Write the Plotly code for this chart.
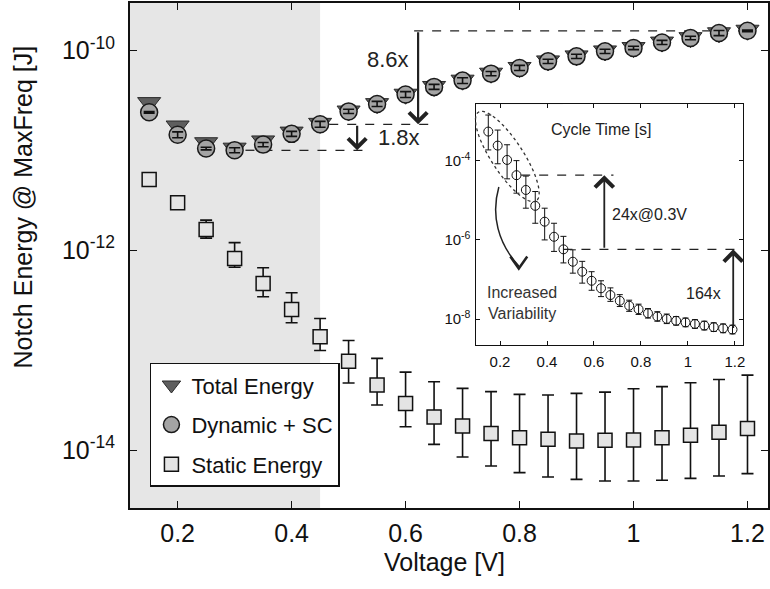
import numpy as np
import plotly.graph_objects as go

FONT = "Liberation Sans, Arial, Helvetica, sans-serif"
W, H = 770, 589
ML, MR, MT, MB = 130, 0, 3, 81

# ---- main panel: energy per operation vs supply voltage ----
voltage = [0.15, 0.20, 0.25, 0.30, 0.35, 0.40, 0.45, 0.50, 0.55, 0.60, 0.65,
           0.70, 0.75, 0.80, 0.85, 0.90, 0.95, 1.00, 1.05, 1.10, 1.15, 1.20]

total_energy = [3.0e-11, 1.75e-11, 1.19e-11, 1.05e-11, 1.24e-11, 1.52e-11, 1.86e-11,
                2.47e-11, 2.93e-11, 3.64e-11, 4.35e-11, 5.03e-11, 5.91e-11, 6.74e-11,
                7.84e-11, 8.80e-11, 9.87e-11, 1.067e-10, 1.21e-10, 1.34e-10, 1.50e-10,
                1.59e-10]

dynamic_sc = [2.40e-11, 1.43e-11, 1.04e-11, 1.00e-11, 1.14e-11, 1.46e-11, 1.82e-11,
              2.45e-11, 2.91e-11, 3.61e-11, 4.31e-11, 4.98e-11, 5.85e-11, 6.67e-11,
              7.76e-11, 8.71e-11, 9.77e-11, 1.057e-10, 1.20e-10, 1.33e-10, 1.49e-10,
              1.57e-10]

# relative half-spread of the dynamic-energy error bars
dynamic_spread = [0.02, 0.07, 0.03, 0.06, 0.05, 0.06, 0.07, 0.05, 0.06, 0.07, 0.06,
                  0.07, 0.05, 0.06, 0.05, 0.05, 0.05, 0.04, 0.05, 0.04, 0.06, 0.02]

static_energy = [5.09e-12, 2.98e-12, 1.61e-12, 8.26e-13, 4.65e-13, 2.55e-13, 1.36e-13,
                 7.76e-14, 4.47e-14, 2.93e-14, 2.14e-14, 1.74e-14, 1.46e-14, 1.33e-14,
                 1.28e-14, 1.23e-14, 1.25e-14, 1.26e-14, 1.33e-14, 1.41e-14, 1.51e-14,
                 1.64e-14]
static_hi = [5.45e-12, 3.20e-12, 2.00e-12, 1.19e-12, 6.67e-13, 3.75e-13, 2.07e-13,
             1.25e-13, 8.26e-14, 6.03e-14, 4.83e-14, 4.14e-14, 3.84e-14, 3.61e-14,
             3.55e-14, 3.69e-14, 3.80e-14, 4.11e-14, 4.31e-14, 4.72e-14, 5.09e-14,
             5.62e-14]
static_lo = [4.75e-12, 2.78e-12, 1.32e-12, 6.76e-13, 3.42e-13, 1.88e-13, 9.93e-14,
             4.68e-14, 2.82e-14, 1.71e-14, 1.14e-14, 8.51e-15, 6.92e-15, 5.94e-15,
             5.37e-15, 5.09e-15, 4.90e-15, 4.90e-15, 4.98e-15, 5.21e-15, 5.50e-15,
             5.81e-15]

x_ticks = [0.2, 0.4, 0.6, 0.8, 1.0, 1.2]
x_ticktext = ["0.2", "0.4", "0.6", "0.8", "1", "1.2"]
y_ticks = [1e-14, 1e-12, 1e-10]
y_ticktext = ["10<sup>-14</sup>", "10<sup>-12</sup>", "10<sup>-10</sup>"]

# ---- inset: cycle time vs supply voltage ----
cycle_voltage = [0.15, 0.19, 0.23, 0.27, 0.31, 0.35, 0.39, 0.43, 0.47, 0.51, 0.55,
                 0.59, 0.63, 0.67, 0.71, 0.75, 0.79, 0.83, 0.87, 0.91, 0.95, 0.99,
                 1.03, 1.07, 1.11, 1.15, 1.19]
cycle_time = [5.40e-4, 2.39e-4, 1.04e-4, 4.29e-5, 1.82e-5, 7.24e-6, 2.88e-6, 1.20e-6,
              5.79e-7, 2.82e-7, 1.58e-7, 9.33e-8, 6.03e-8, 4.07e-8, 2.92e-8, 2.19e-8,
              1.78e-8, 1.41e-8, 1.17e-8, 1.02e-8, 9.12e-9, 8.32e-9, 7.59e-9, 6.92e-9,
              6.31e-9, 5.89e-9, 5.50e-9]
cycle_hi = [1.41e-3, 5.89e-4, 2.51e-4, 1.00e-4, 4.07e-5, 1.66e-5, 6.31e-6, 2.63e-6,
            1.23e-6, 5.62e-7, 2.88e-7, 1.58e-7, 9.33e-8, 6.17e-8, 4.17e-8, 3.02e-8,
            2.40e-8, 1.86e-8, 1.55e-8, 1.35e-8, 1.17e-8, 1.07e-8, 9.77e-9, 8.91e-9,
            8.13e-9, 7.59e-9, 7.08e-9]
cycle_lo = [1.86e-4, 8.32e-5, 3.47e-5, 1.51e-5, 6.31e-6, 2.63e-6, 1.00e-6, 5.13e-7,
            2.63e-7, 1.45e-7, 8.13e-8, 5.37e-8, 3.72e-8, 2.82e-8, 2.09e-8, 1.58e-8,
            1.32e-8, 1.07e-8, 8.91e-9, 7.76e-9, 7.08e-9, 6.46e-9, 5.89e-9, 5.37e-9,
            4.90e-9, 4.57e-9, 4.27e-9]

inset_x_ticks = [0.2, 0.4, 0.6, 0.8, 1.0, 1.2]
inset_x_ticktext = ["0.2", "0.4", "0.6", "0.8", "1", "1.2"]
inset_y_ticks = [1e-8, 1e-6, 1e-4]
inset_y_ticktext = ["10<sup>-8</sup>", "10<sup>-6</sup>", "10<sup>-4</sup>"]

low_v_region = 0.45        # end of the shaded near-threshold region (main)
inset_low_v_region = 0.468  # same region on the inset axis


def idx(v):
    return min(range(len(voltage)), key=lambda i: abs(voltage[i] - v))


def to_paper(px, py):
    """Convert page pixel coordinates to paper coordinates."""
    return (px - ML) / (W - ML - MR), (H - MB - py) / (H - MT - MB)


fig = go.Figure()

fig.add_trace(go.Scatter(
    x=voltage, y=total_energy, mode="markers", name="Total Energy",
    legendgroup="total",
    marker=dict(symbol="triangle-down", size=20, color="#5e5e5e",
                line=dict(color="#2a2a2a", width=1)),
))
fig.add_trace(go.Scatter(
    x=voltage, y=dynamic_sc, mode="markers", name="Dynamic + SC",
    legendgroup="dyn",
    marker=dict(symbol="circle", size=17, color="#a4a4a4",
                line=dict(color="#1a1a1a", width=1.5)),
))
# small error bars drawn on top of the dynamic-energy markers
fig.add_trace(go.Scatter(
    x=voltage, y=dynamic_sc, mode="markers", showlegend=False, hoverinfo="skip",
    marker=dict(size=1, opacity=0),
    error_y=dict(type="data", symmetric=False,
                 array=[y * s for y, s in zip(dynamic_sc, dynamic_spread)],
                 arrayminus=[y * s / (1 + s) for y, s in zip(dynamic_sc, dynamic_spread)],
                 color="#111111", thickness=1.6, width=5.5),
))
fig.add_trace(go.Scatter(
    x=voltage, y=static_energy, mode="markers", name="Static Energy",
    legendgroup="static",
    marker=dict(symbol="square", size=14, color="#e4e4e4",
                line=dict(color="#111111", width=1.5)),
    error_y=dict(type="data", symmetric=False,
                 array=[h - y for h, y in zip(static_hi, static_energy)],
                 arrayminus=[y - l for l, y in zip(static_lo, static_energy)],
                 color="#111111", thickness=1.6, width=6),
))
fig.add_trace(go.Scatter(
    x=cycle_voltage, y=cycle_time, mode="markers", showlegend=False,
    xaxis="x2", yaxis="y2",
    marker=dict(symbol="circle-open", size=9, color="#111111",
                line=dict(color="#111111", width=1)),
    error_y=dict(type="data", symmetric=False,
                 array=[h - y for h, y in zip(cycle_hi, cycle_time)],
                 arrayminus=[y - l for l, y in zip(cycle_lo, cycle_time)],
                 color="#111111", thickness=1, width=3),
))

shapes = [
    # shaded low-voltage region, main axes
    dict(type="rect", xref="x", yref="y domain", x0=0.0, x1=low_v_region, y0=0, y1=1,
         fillcolor="#e6e6e6", line=dict(width=0), layer="below"),
    # inset background and shaded region
    dict(type="rect", xref="x2 domain", yref="y2 domain", x0=0, x1=1, y0=0, y1=1,
         fillcolor="white", line=dict(width=0), layer="below"),
    dict(type="rect", xref="x2", yref="y2 domain", x0=0.0, x1=inset_low_v_region,
         y0=0, y1=1, fillcolor="#e6e6e6", line=dict(width=0), layer="below"),
]

dash = dict(color="#222222", width=1.3, dash="dash")
i03, i045, i12 = idx(0.30), idx(0.45), idx(1.20)
shapes += [
    dict(type="line", xref="x", yref="y", x0=0.319, x1=0.539,
         y0=dynamic_sc[i03], y1=dynamic_sc[i03], line=dash, layer="below"),
    dict(type="line", xref="x", yref="y", x0=0.466, x1=0.644,
         y0=dynamic_sc[i045], y1=dynamic_sc[i045], line=dash, layer="below"),
    dict(type="line", xref="x", yref="y", x0=0.615, x1=1.20,
         y0=dynamic_sc[i12], y1=dynamic_sc[i12], line=dash, layer="below"),
    dict(type="line", xref="x2", yref="y2", x0=0.29, x1=0.683,
         y0=cycle_time[3], y1=cycle_time[3], line=dash),
    dict(type="line", xref="x2", yref="y2", x0=0.47, x1=1.23,
         y0=cycle_time[8], y1=cycle_time[8], line=dash),
]

# dotted ellipse around the high-variability points of the inset
cx, cy, a, b, ang = 508.5, 156.5, 53.0, 16.0, np.deg2rad(56.8)
t = np.linspace(0, 2 * np.pi, 60)
ex = cx + a * np.cos(t) * np.cos(ang) - b * np.sin(t) * np.sin(ang)
ey = cy + a * np.cos(t) * np.sin(ang) + b * np.sin(t) * np.cos(ang)
pts = [to_paper(px, py) for px, py in zip(ex, ey)]
ell_path = "M" + " L".join(f"{p[0]:.5f},{p[1]:.5f}" for p in pts) + " Z"
shapes.append(dict(type="path", xref="paper", yref="paper", path=ell_path,
                   line=dict(color="#333333", width=1.3, dash="dot")))

# curved arrow pointing to the variability label
p0, c1, c2, p1 = to_paper(500, 187), to_paper(492, 215), to_paper(499, 243), to_paper(520, 266)
curve = (f"M{p0[0]:.5f},{p0[1]:.5f} C{c1[0]:.5f},{c1[1]:.5f} "
         f"{c2[0]:.5f},{c2[1]:.5f} {p1[0]:.5f},{p1[1]:.5f}")
shapes.append(dict(type="path", xref="paper", yref="paper", path=curve,
                   line=dict(color="#222222", width=1.5)))
h1, h2, h3 = to_paper(511.5, 256.5), to_paper(520, 268.5), to_paper(528.5, 256.5)
shapes.append(dict(type="path", xref="paper", yref="paper",
                   path=f"M{h1[0]:.5f},{h1[1]:.5f} L{h2[0]:.5f},{h2[1]:.5f} L{h3[0]:.5f},{h3[1]:.5f}",
                   line=dict(color="#222222", width=2.5)))

lg = np.log10
arrow = dict(showarrow=True, text="", arrowhead=4, arrowcolor="#222222",
             axref="x", ayref="y", xref="x", yref="y", standoff=0, startstandoff=0)
arrow2 = dict(arrow, axref="x2", ayref="y2", xref="x2", yref="y2")
annotations = [
    dict(arrow, x=0.515, y=lg(dynamic_sc[i03]), ax=0.515, ay=lg(dynamic_sc[i045]),
         arrowwidth=2.2, arrowsize=1.6),
    dict(arrow, x=0.622, y=lg(dynamic_sc[i045]), ax=0.622, ay=lg(dynamic_sc[i12]),
         arrowwidth=2.2, arrowsize=1.6),
    dict(arrow2, x=0.644, y=lg(cycle_time[3]), ax=0.644, ay=lg(cycle_time[8]),
         arrowwidth=1.8, arrowsize=2.0),
    dict(arrow2, x=1.193, y=lg(cycle_time[8]), ax=1.193, ay=lg(cycle_time[26]),
         arrowwidth=1.8, arrowsize=2.0),
    dict(text="8.6x", x=0.610, y=-10.093, xref="x", yref="y", xanchor="right",
         showarrow=False, font=dict(size=22, color="#222222")),
    dict(text="1.8x", x=0.548, y=-10.873, xref="x", yref="y", xanchor="left",
         showarrow=False, font=dict(size=22, color="#222222")),
    dict(text="Cycle Time [s]", x=0.629, y=-3.225, xref="x2", yref="y2",
         showarrow=False, font=dict(size=16, color="#222222")),
    dict(text="24x@0.3V", x=0.669, y=-5.371, xref="x2", yref="y2", xanchor="left",
         showarrow=False, font=dict(size=16, color="#222222")),
    dict(text="164x", x=1.15, y=-7.34, xref="x2", yref="y2", xanchor="right",
         showarrow=False, font=dict(size=16, color="#222222")),
    dict(text="Increased<br>Variability", x=0.2925, y=-7.59, xref="x2", yref="y2",
         showarrow=False, font=dict(size=16, color="#333333")),
    dict(text="Voltage [V]", x=to_paper(445, 0)[0], y=to_paper(0, 562)[1],
         xref="paper", yref="paper", showarrow=False, yanchor="middle",
         font=dict(size=25, color="#111111")),
    dict(text="Notch Energy @ MaxFreq [J]", x=to_paper(22.5, 0)[0],
         y=to_paper(0, 206.7)[1], xref="paper", yref="paper", showarrow=False,
         textangle=-90, xanchor="center", yanchor="middle",
         font=dict(size=25, color="#111111")),
]

main_axis = dict(showgrid=False, zeroline=False, showline=True, linecolor="#111111",
                 linewidth=2, mirror="ticks", ticks="inside", ticklen=7,
                 tickwidth=1.3, tickcolor="#111111",
                 tickfont=dict(size=25, color="#111111"))
inset_axis = dict(showgrid=False, zeroline=False, showline=True, linecolor="#111111",
                  linewidth=1.3, mirror="ticks", ticks="inside", ticklen=4,
                  tickwidth=1, tickcolor="#111111",
                  tickfont=dict(size=15, color="#111111"))

d_x0, d_y1 = to_paper(476.7, 104.3)
d_x1, d_y0 = to_paper(745, 345)

fig.update_layout(
    width=W, height=H, autosize=False,
    margin=dict(l=ML, r=MR, t=MT, b=MB, pad=0),
    paper_bgcolor="white", plot_bgcolor="white",
    font=dict(family=FONT, color="#111111"),
    xaxis=dict(main_axis, range=[0.1164, 1.236], tickvals=x_ticks,
               ticktext=x_ticktext, ticklabelstandoff=2),
    yaxis=dict(main_axis, type="log", range=[-14.58, -9.526], tickvals=y_ticks,
               ticktext=y_ticktext, ticklabelstandoff=8),
    xaxis2=dict(inset_axis, domain=[d_x0, d_x1], anchor="y2", range=[0.096, 1.235],
                tickvals=inset_x_ticks, ticktext=inset_x_ticktext,
                ticklabelstandoff=3),
    yaxis2=dict(inset_axis, domain=[d_y0, d_y1], anchor="x2", type="log",
                range=[-8.65, -2.58], tickvals=inset_y_ticks,
                ticktext=inset_y_ticktext, ticklabelstandoff=1),
    legend=dict(x=to_paper(150, 0)[0], y=to_paper(0, 362.7)[1], xanchor="left",
                yanchor="top", bgcolor="white", bordercolor="#111111",
                borderwidth=1.5, font=dict(size=22, color="#111111"),
                tracegroupgap=8, entrywidth=190, entrywidthmode="pixels"),
    shapes=shapes,
    annotations=annotations,
    showlegend=True,
)

fig.write_html("out.html")
